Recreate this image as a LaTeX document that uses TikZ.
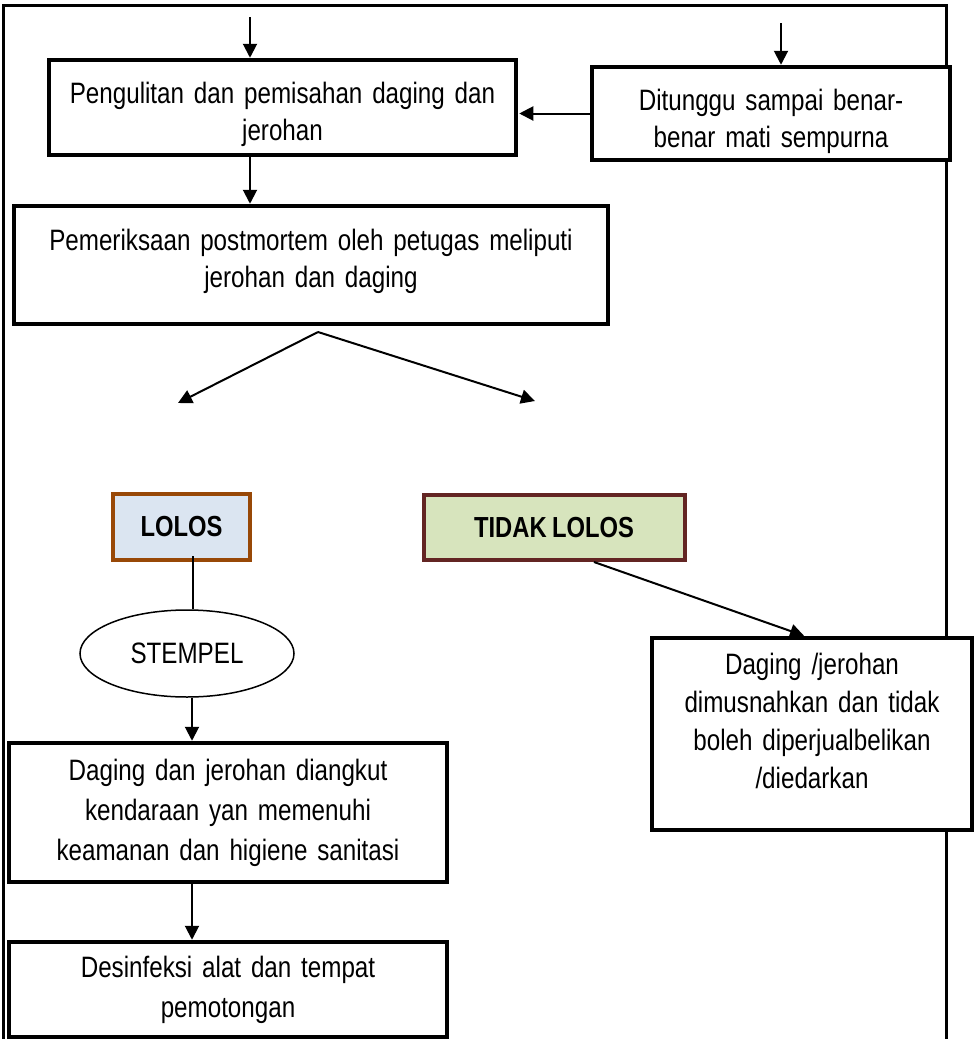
\documentclass[tikz,border=0pt]{standalone}
\usepackage{fontspec}
\setmainfont{Liberation Sans}[FakeStretch=0.82,WordSpace=0.8]
\usetikzlibrary{arrows.meta,shapes.geometric}
\definecolor{lolosfill}{HTML}{DBE5F1}
\definecolor{lolosline}{HTML}{984807}
\definecolor{tidakfill}{HTML}{D7E4BD}
\definecolor{tidakline}{HTML}{632523}
\begin{document}
\begin{tikzpicture}[x=1pt,y=-1pt,
  font=\fontsize{29.5}{37}\selectfont,
  flowbox/.style={draw=black,line width=4.5pt,rectangle,inner sep=0pt,align=center,fill=white},
  resbox/.style={rectangle,line width=4pt,inner sep=0pt,align=center,font=\fontsize{29}{37}\selectfont\bfseries},
  arr/.style={line width=2pt,-{Triangle[length=14pt,width=14pt]}},
  plain/.style={line width=2pt}]
\useasboundingbox (0,0) rectangle (979,1039);
\draw[line width=3pt] (3,1039) -- (3,5) -- (946,5) -- (946,1039);

\node[flowbox,minimum width=467pt,minimum height=95pt,text width=450pt] (peng) at (282.5,107.5)
  {\rule{0pt}{36pt}Pengulitan dan pemisahan daging dan\\jerohan};
\node[flowbox,minimum width=358pt,minimum height=93pt,text width=340pt] (tunggu) at (771,113.5)
  {\rule{0pt}{37pt}Ditunggu sampai benar-\\benar mati sempurna};
\node[flowbox,minimum width=594pt,minimum height=118pt,text width=570pt] (pem) at (311,265)
  {Pemeriksaan postmortem oleh petugas meliputi\\jerohan dan daging\rule[-14pt]{0pt}{1pt}};
\node[resbox,draw=lolosline,fill=lolosfill,minimum width=137pt,minimum height=66pt] (lolos) at (181.5,527) {LOLOS};
\node[resbox,draw=tidakline,fill=tidakfill,minimum width=261pt,minimum height=65pt] (tidak) at (554,527.5) {TIDAK LOLOS};
\node[ellipse,draw=black,line width=1.5pt,minimum width=214pt,minimum height=87pt,inner sep=0pt] (stempel) at (187,653.5) {STEMPEL};
\node[flowbox,minimum width=438pt,minimum height=139pt,text width=420pt,font=\fontsize{29.5}{40}\selectfont] (angkut) at (228,812.5)
  {Daging dan jerohan diangkut\\kendaraan yan memenuhi\\keamanan dan higiene sanitasi};
\node[flowbox,minimum width=438pt,minimum height=95pt,text width=420pt,font=\fontsize{29.5}{40}\selectfont] (desin) at (228,989.5)
  {Desinfeksi alat dan tempat\\pemotongan};
\node[flowbox,minimum width=320pt,minimum height=192pt,text width=300pt,font=\fontsize{29.5}{38}\selectfont] (musnah) at (812,734)
  {Daging /jerohan\\dimusnahkan dan tidak\\boleh diperjualbelikan\\/diedarkan\rule[-26pt]{0pt}{1pt}};

\coordinate (top1) at (250,17);
\coordinate (top2) at (781,23);
\coordinate (split) at (318,332);
\coordinate (tipL) at (178,403);
\coordinate (tipR) at (535,401);
\coordinate (cx) at (193,0);
\coordinate (cy) at (192,0);

\draw[arr] (top1) -- (top1 |- peng.north);
\draw[arr] (top2) -- (top2 |- tunggu.north);
\draw[arr,shorten >=1pt] (tunggu.west) -- (tunggu.west -| peng.east);
\draw[arr] (peng.south -| top1) -- (pem.north -| top1);
\draw[arr] (split) -- (tipL);
\draw[arr] (split) -- (tipR);
\draw[plain] ([yshift=6pt]lolos.south -| cx) -- (stempel.north -| cx);
\draw[arr] (stempel.south -| cy) -- (angkut.north -| cy);
\draw[arr] (angkut.south -| cy) -- (desin.north -| cy);
\draw[arr] ([xshift=40pt]tidak.south) -- ([xshift=-8pt]musnah.north);
\end{tikzpicture}
\end{document}
